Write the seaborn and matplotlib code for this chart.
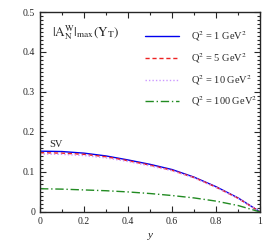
import numpy as np
import pandas as pd
import matplotlib
matplotlib.use("Agg")
import matplotlib.pyplot as plt
import seaborn as sns
from matplotlib.ticker import MultipleLocator

y_vals = [0.0, 0.1, 0.2, 0.3, 0.4, 0.5, 0.6, 0.7, 0.8, 0.9, 1.0]
q1 = [0.152, 0.151, 0.147, 0.140, 0.130, 0.119, 0.106, 0.087, 0.063, 0.035, 0.0]
q5 = [0.148, 0.147, 0.144, 0.138, 0.128, 0.117, 0.104, 0.086, 0.062, 0.034, 0.0]
q10 = [0.145, 0.144, 0.141, 0.135, 0.126, 0.115, 0.103, 0.085, 0.061, 0.034, 0.0]
q100 = [0.058, 0.057, 0.055, 0.053, 0.050, 0.046, 0.041, 0.035, 0.027, 0.016, 0.0]
labels = [r"Q$^2$ = 1 GeV$^2$", r"Q$^2$ = 5 GeV$^2$", r"Q$^2$ = 10 GeV$^2$", r"Q$^2$ = 100 GeV$^2$"]
colors = ["#0000ee", "#ee2222", "#cc99ff", "#228b22"]
styles = ["-", (0, (3, 2)), (0, (1, 1.5)), (0, (6, 2, 1, 2))]

sns.set_style("ticks")
plt.rcParams['font.family'] = ['Liberation Serif', 'DejaVu Serif']
plt.rcParams['mathtext.fontset'] = 'stix'

frames = []
for lab, vals in zip(labels, [q1, q5, q10, q100]):
    frames.append(pd.DataFrame({"y": y_vals, "A": vals, "series": lab}))
df = pd.concat(frames, ignore_index=True)

fig = plt.figure(figsize=(2.8, 2.45), dpi=100)
ax = fig.add_axes([0.143, 0.135, 0.786, 0.816])
for lab, c, ls in zip(labels, colors, styles):
    sub = df[df["series"] == lab]
    sns.lineplot(data=sub, x="y", y="A", ax=ax, color=c, linestyle=ls, lw=1.0, label=lab)

ax.set_xlim(0, 1)
ax.set_ylim(0, 0.5)
ax.set_xticks([0, 0.2, 0.4, 0.6, 0.8, 1.0])
ax.set_xticklabels(["0", "0.2", "0.4", "0.6", "0.8", "1"])
ax.set_yticks([0, 0.1, 0.2, 0.3, 0.4, 0.5])
ax.set_yticklabels(["0", "0.1", "0.2", "0.3", "0.4", "0.5"])
ax.xaxis.set_minor_locator(MultipleLocator(0.1))
ax.yaxis.set_minor_locator(MultipleLocator(0.01))
ax.tick_params(which="both", direction="in", top=True, right=True, labelsize=7, width=0.8)
ax.tick_params(which="major", length=4)
ax.tick_params(which="minor", length=2)
for s in ax.spines.values():
    s.set_linewidth(1.0)
ax.set_xlabel("y", fontsize=8, style="italic", labelpad=4)
ax.set_ylabel("")
ax.text(0.055, 0.44, r"$|\mathrm{A}_\mathrm{N}^\mathrm{W}|_\mathrm{max}(\mathrm{Y}_\mathrm{T})$", fontsize=9.5)
ax.text(0.04, 0.163, "SV", fontsize=7.5)
ax.legend(loc="upper right", frameon=False, fontsize=7.5, handlelength=3.2,
          handletextpad=1.2, labelspacing=0.75, bbox_to_anchor=(1.03, 0.96))
fig.savefig("out.png", dpi=100)
